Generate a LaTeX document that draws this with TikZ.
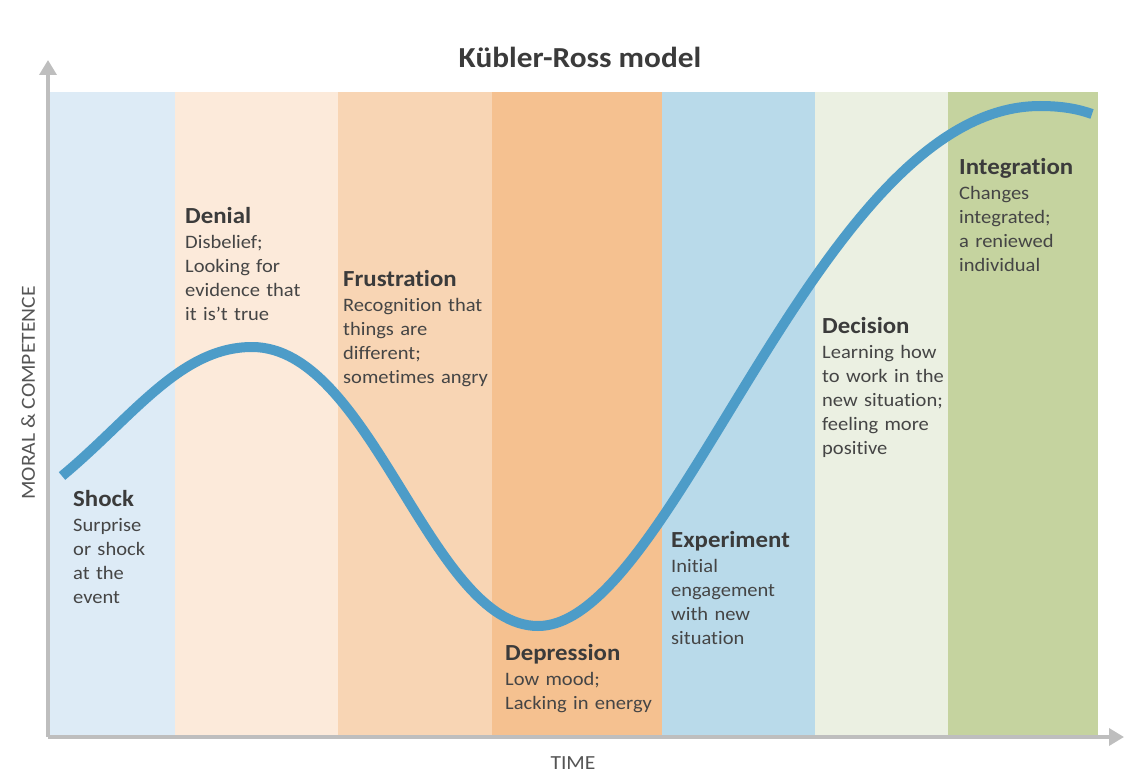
\documentclass[tikz,border=0pt]{standalone}
\usepackage{fontspec}
\setmainfont{Carlito}[FakeStretch=1.08,Ligatures=NoCommon]
\usetikzlibrary{arrows.meta}
\definecolor{bandA}{HTML}{DDEBF6}
\definecolor{bandB}{HTML}{FCEADA}
\definecolor{bandC}{HTML}{F8D5B4}
\definecolor{bandD}{HTML}{F5C190}
\definecolor{bandE}{HTML}{B9DAEA}
\definecolor{bandF}{HTML}{EBF0E2}
\definecolor{bandG}{HTML}{C5D39F}
\definecolor{curveblue}{HTML}{4D9CC8}
\definecolor{axisgray}{HTML}{BEBEBE}
\definecolor{headgray}{HTML}{3B3B3B}
\definecolor{bodygray}{HTML}{454545}
\definecolor{labelgray}{HTML}{555555}
\begin{document}
\begin{tikzpicture}[x=1pt,y=-1pt,
  band/.style={fill=#1,draw=none},
  axisline/.style={draw=axisgray,line width=3.5pt,-{Triangle[width=17pt,length=15pt]}},
  stagehead/.style={anchor=base west,inner sep=0pt,text=headgray,font=\fontsize{23}{27}\selectfont\bfseries},
  stagebody/.style={anchor=base west,inner sep=0pt,text=bodygray,text width=200pt,align=left,font=\fontsize{19}{24}\selectfont},
  axislabel/.style={inner sep=0pt,text=labelgray,font=\fontsize{20}{22}\selectfont},
  titletext/.style={inner sep=0pt,text=headgray,font=\fontsize{29}{34}\selectfont\bfseries}]
\useasboundingbox (0,0) rectangle (1125,781);
% bands
\fill[band=bandA] (50,92) rectangle (175,737);
\fill[band=bandB] (175,92) rectangle (338,737);
\fill[band=bandC] (338,92) rectangle (492,737);
\fill[band=bandD] (492,92) rectangle (662,737);
\fill[band=bandE] (662,92) rectangle (815,737);
\fill[band=bandF] (815,92) rectangle (948,737);
\fill[band=bandG] (948,92) rectangle (1098,737);
% axes
\coordinate (origin) at (48,737);
\coordinate (ytip) at (48,60);
\coordinate (xtip) at (1124,737);
\draw[axisline] (origin) -- (ytip);
\draw[axisline] (origin) -- (xtip);
% curve
\coordinate (c0) at (62,476);
\coordinate (c1) at (252,347);
\coordinate (c2) at (538,626);
\coordinate (c3) at (1040,106);
\coordinate (c4) at (1092,114);
\draw[curveblue,line width=10pt]
  (c0) .. controls (132,418) and (180,347) .. (c1)
       .. controls (372,347) and (430,626) .. (c2)
       .. controls (675,626) and (818,106) .. (c3)
       .. controls (1062,106) and (1078,109) .. (c4);
% title and axis labels
\node[titletext] (title) at (580,57) {Kübler-Ross model};
\node[axislabel,rotate=90] (ylabel) at (28,393) {MORAL \& COMPETENCE};
\node[axislabel] (xlabel) at (573,763) {TIME};
% stages
\node[stagehead] (shockH) at (73,506) {Shock};
\node[stagebody] (shockB) at (73,531) {Surprise\\or shock\\at the\\event};
\node[stagehead] (denialH) at (185,223) {Denial};
\node[stagebody] (denialB) at (185,248) {Disbelief;\\Looking for\\evidence that\\it is’t true};
\node[stagehead] (frustH) at (343,286) {Frustration};
\node[stagebody] (frustB) at (343,311) {Recognition that\\things are\\different;\\sometimes angry};
\node[stagehead] (depH) at (505,660) {Depression};
\node[stagebody] (depB) at (505,685) {Low mood;\\Lacking in energy};
\node[stagehead] (expH) at (671,547) {Experiment};
\node[stagebody] (expB) at (671,572) {Initial\\engagement\\with new\\situation};
\node[stagehead] (decH) at (822,333) {Decision};
\node[stagebody] (decB) at (822,358) {Learning how\\to work in the\\new situation;\\feeling more\\positive};
\node[stagehead] (intH) at (959,175) {Integration};
\node[stagebody] (intB) at (959,200) {Changes\\integrated;\\a reniewed\\individual};
\end{tikzpicture}
\end{document}
